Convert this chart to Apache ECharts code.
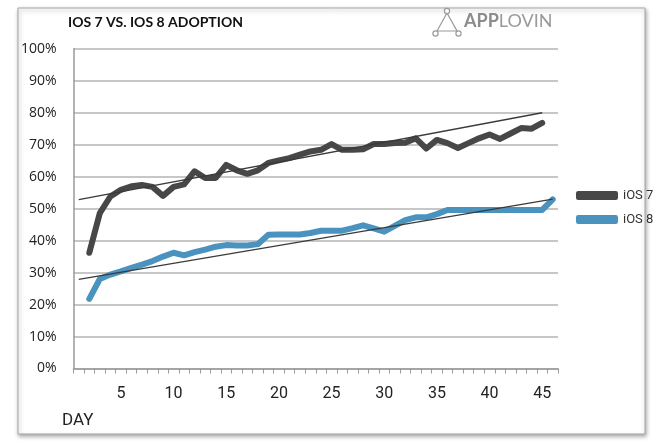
<!DOCTYPE html>
<html>
<head>
<meta charset="utf-8">
<script src="https://cdn.jsdelivr.net/npm/echarts@6/dist/echarts.min.js"></script>
<style>
html,body{margin:0;padding:0;background:#fff;}
#chart{width:660px;height:443px;}
</style>
</head>
<body>
<div id="chart"></div>
<script>
var days = [];
for (var d = 1; d <= 46; d++) days.push(String(d));

var ios7 = [null, 36.2, 48.6, 53.8, 55.9, 57.0, 57.4, 56.8, 54.0, 56.8, 57.6, 61.7, 59.6, 59.6, 63.7,
  62.0, 60.9, 62.0, 64.3, 65.1, 65.8, 66.9, 67.9, 68.4, 70.2, 68.4, 68.4, 68.6, 70.2, 70.2,
  70.5, 70.6, 72.0, 68.8, 71.5, 70.5, 69.0, 70.5, 72.0, 73.2, 71.8, 73.5, 75.2, 75.0, 76.8, null];

var ios8 = [null, 21.8, 28.0, 29.4, 30.4, 31.5, 32.5, 33.6, 35.0, 36.2, 35.4, 36.4, 37.2, 38.1, 38.6,
  38.5, 38.5, 38.9, 41.8, 41.9, 41.9, 41.9, 42.4, 43.1, 43.1, 43.1, 43.9, 44.8, 43.8, 42.8,
  44.6, 46.4, 47.3, 47.3, 48.3, 49.6, 49.6, 49.6, 49.6, 49.6, 49.6, 49.6, 49.6, 49.6, 49.6, 52.9];

// trendline endpoints [category index, value]
var trend7 = [[0, 52.8], [44, 80.0]];
var trend8 = [[0, 27.9], [45, 53.0]];

var chart = echarts.init(document.getElementById('chart'));
var GRAY = '#474747', BLUE = '#4b93bf';
chart.setOption({
  animation: false,
  backgroundColor: '#ffffff',
  graphic: [
    { type: 'rect', z: -10, shape: { x: 18, y: 8, width: 627, height: 426 },
      style: { fill: '#fff', stroke: '#a8a8a8', lineWidth: 1, shadowBlur: 4, shadowColor: 'rgba(0,0,0,0.35)', shadowOffsetX: 1, shadowOffsetY: 2 } },
    { type: 'text', left: 68, top: 15, style: { text: 'IOS 7 VS. IOS 8 ADOPTION', fill: '#111', font: 'bold 14px Lato' } },
    { type: 'polyline', shape: { points: [[437, 31], [447, 13], [457, 31], [437, 31]] }, style: { stroke: '#9a9a9a', fill: null, lineWidth: 1.2 } },
    { type: 'circle', shape: { cx: 447, cy: 11, r: 2.6 }, style: { stroke: '#9a9a9a', fill: '#fff', lineWidth: 1.2 } },
    { type: 'circle', shape: { cx: 435.5, cy: 33.5, r: 2.6 }, style: { stroke: '#9a9a9a', fill: '#fff', lineWidth: 1.2 } },
    { type: 'circle', shape: { cx: 458.5, cy: 33.5, r: 2.6 }, style: { stroke: '#9a9a9a', fill: '#fff', lineWidth: 1.2 } },
    { type: 'text', left: 464, top: 12, style: { text: '{a|APP}{b|LOVIN}', rich: {
        a: { fill: '#8c8c8c', font: 'bold 18px Lato' },
        b: { fill: '#9a9a9a', font: '18px Lato' } } } },
    { type: 'text', left: 62, top: 412, style: { text: 'DAY', fill: '#222', font: '17px Roboto' } }
  ],
  legend: {
    data: ['iOS 7', 'iOS 8'], orient: 'vertical', left: 571, top: 184, icon: 'roundRect',
    itemWidth: 42, itemHeight: 9, itemGap: 11,
    textStyle: { color: '#333', fontSize: 13, fontFamily: 'Roboto' }
  },
  grid: { left: 73.5, right: 102, top: 48.8, bottom: 74.5, containLabel: false },
  xAxis: {
    type: 'category', data: days, boundaryGap: true,
    axisLine: { lineStyle: { color: '#9a9a9a', width: 1.5 } },
    axisTick: { show: true, interval: 0, length: 5, lineStyle: { color: '#9a9a9a' } },
    axisLabel: { interval: function (i, v) { return Number(v) % 5 === 0; }, color: '#222', fontSize: 16, fontFamily: 'Roboto', margin: 17 },
    splitLine: { show: false }
  },
  yAxis: {
    type: 'value', min: 0, max: 100, interval: 10,
    axisLine: { show: true, lineStyle: { color: '#9a9a9a', width: 1.5 } },
    axisTick: { show: false },
    axisLabel: { formatter: '{value}%', color: '#222', fontSize: 14, fontFamily: 'Open Sans', margin: 17 },
    splitLine: { lineStyle: { color: '#b4b4b4', width: 1.5 } }
  },
  series: [
    { name: 'iOS 7', type: 'line', data: ios7, symbol: 'none', color: GRAY,
      lineStyle: { color: GRAY, width: 6, cap: 'round', join: 'round' }, z: 3 },
    { name: 'iOS 8', type: 'line', data: ios8, symbol: 'none', color: BLUE,
      lineStyle: { color: BLUE, width: 6, cap: 'round', join: 'round' }, z: 3 },
    { name: 'trend7', type: 'line', data: trend7, symbol: 'none', silent: true,
      lineStyle: { color: '#3a3a3a', width: 1.3 }, z: 5 },
    { name: 'trend8', type: 'line', data: trend8, symbol: 'none', silent: true,
      lineStyle: { color: '#3a3a3a', width: 1.3 }, z: 5 }
  ]
});
</script>
</body>
</html>
